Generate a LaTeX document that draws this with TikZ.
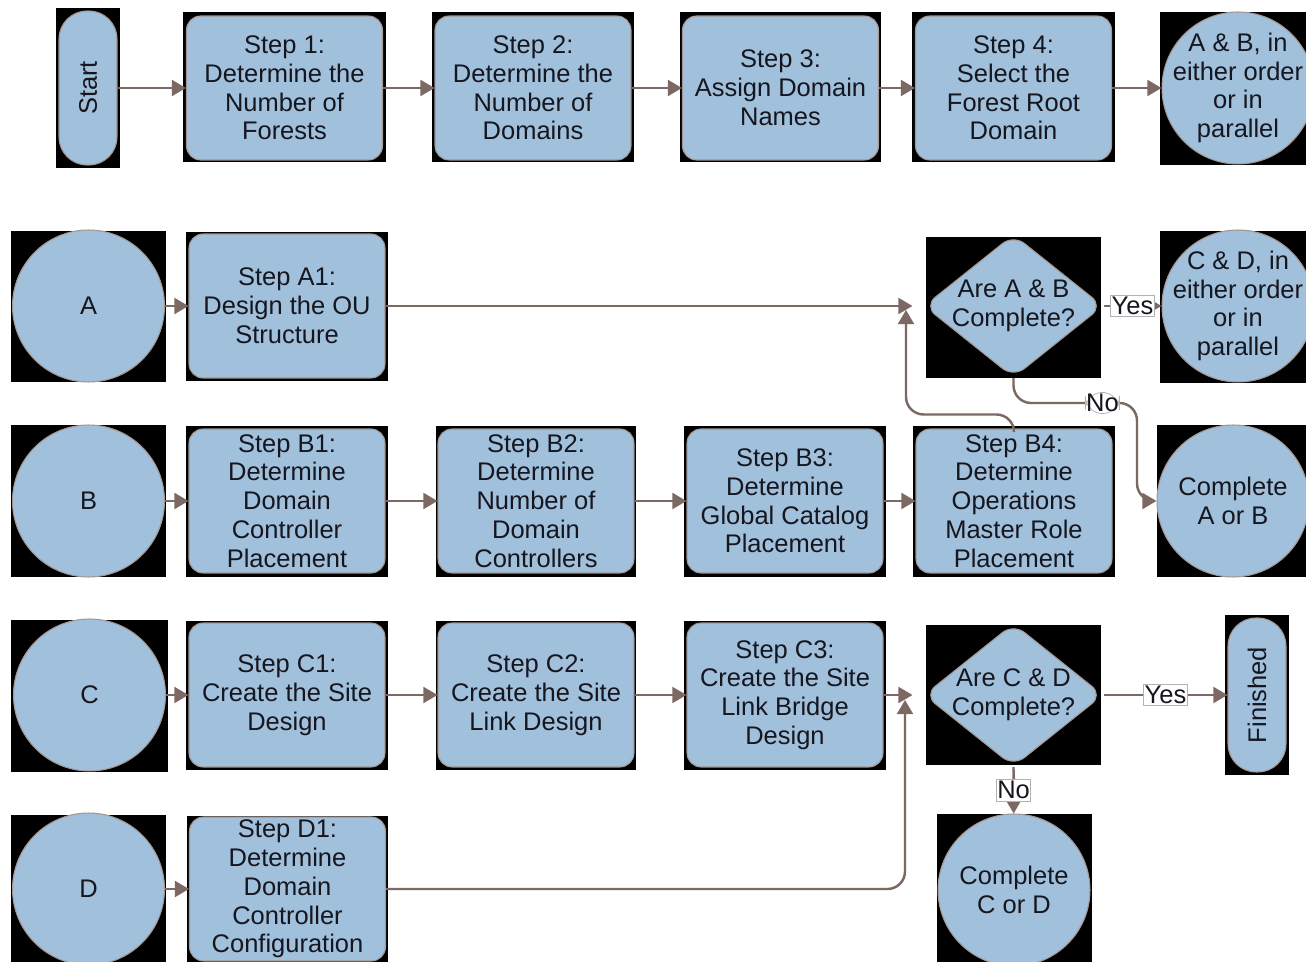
\documentclass[tikz,border=0pt]{standalone}
\usepackage{fontspec}
\setmainfont{Liberation Sans}
\usepackage{tikz}
\usetikzlibrary{positioning,shapes.geometric,arrows.meta,calc}
\definecolor{boxblue}{HTML}{A0C0DC}
\definecolor{flowline}{HTML}{7D6964}
\definecolor{inktext}{HTML}{16161F}
\tikzset{>={Triangle[length=8pt,width=9pt]}}
\tikzset{
  boxfont/.style={text=inktext,font=\fontsize{14.5}{16.4}\selectfont},
  every label/.style={boxfont,align=center,inner sep=0pt},
  stepbox/.style={boxfont,draw=flowline!70,line width=.6pt,fill=boxblue,rounded corners=8pt,
    minimum width=3.92cm,minimum height=2.88cm,inner sep=0pt,align=center},
  endcircle/.style={circle,draw=flowline!70,line width=.6pt,fill=boxblue,minimum size=3.04cm,inner sep=0pt},
  decision/.style={diamond,draw=flowline!70,line width=.6pt,fill=boxblue,rounded corners=8pt,
    minimum width=3.58cm,minimum height=2.86cm,inner sep=0pt},
  pill/.style={boxfont,draw=flowline!70,line width=.6pt,fill=boxblue,rounded corners=.56cm,
    minimum width=3.08cm,minimum height=1.16cm,inner sep=0pt,rotate=90},
  flow/.style={->,draw=flowline,line width=1.4pt},
  tag/.style={boxfont,fill=white,draw=gray!60,line width=.4pt,inner xsep=.5pt,inner ysep=1pt}
}
\begin{document}
\begin{tikzpicture}[x=0.02cm,y=-0.02cm]
\path[use as bounding box,fill=white] (0,0) rectangle (1306,962);
\clip (0,0) rectangle (1306,962);
\fill (56,8) rectangle (120,168);
\fill (183,12) rectangle (386,162);
\fill (432,12) rectangle (634,162);
\fill (680,12) rectangle (881,162);
\fill (912,12) rectangle (1115,162);
\fill (1160,12) rectangle (1306,165);
\fill (11,231) rectangle (166,382);
\fill (186,232) rectangle (388,381);
\fill (926,237) rectangle (1101,378);
\fill (1160,231) rectangle (1306,383);
\fill (11,425) rectangle (166,577);
\fill (186,426) rectangle (388,577);
\fill (436,426) rectangle (636,577);
\fill (684,426) rectangle (886,577);
\fill (913,426) rectangle (1115,577);
\fill (1157,425) rectangle (1306,577);
\fill (11,620) rectangle (168,772);
\fill (186,621) rectangle (388,770);
\fill (436,621) rectangle (636,770);
\fill (684,621) rectangle (886,770);
\fill (926,625) rectangle (1101,765);
\fill (1225,615) rectangle (1289,775);
\fill (11,815) rectangle (166,962);
\fill (187,816) rectangle (388,962);
\fill (937,814) rectangle (1092,962);
\node[pill] (start) at (88,88) {Start};
\node[stepbox] (s1) at (284.5,88) {Step 1:\\Determine the\\Number of\\Forests};
\node[stepbox] (s2) at (533,88) {Step 2:\\Determine the\\Number of\\Domains};
\node[stepbox] (s3) at (780.5,88) {Step 3:\\Assign Domain\\Names};
\node[stepbox] (s4) at (1013.5,88) {Step 4:\\Select the\\Forest Root\\Domain};
\node[endcircle,label=center:{A \& B, in\\either order\\or in\\parallel}] (ab) at (1238,88) {};
\node[endcircle,label=center:A] (a) at (88.5,306) {};
\node[stepbox] (a1) at (287,306) {Step A1:\\Design the OU\\Structure};
\node[decision,label=center:{Are A \& B\\Complete?}] (abq) at (1013.5,306) {};
\node[endcircle,label=center:{C \& D, in\\either order\\or in\\parallel}] (cd) at (1238,306) {};
\node[endcircle,label=center:B] (b) at (88.5,501) {};
\node[stepbox] (b1) at (287,501) {Step B1:\\Determine\\Domain\\Controller\\Placement};
\node[stepbox] (b2) at (536,501) {Step B2:\\Determine\\Number of\\Domain\\Controllers};
\node[stepbox] (b3) at (785,501) {Step B3:\\Determine\\Global Catalog\\Placement};
\node[stepbox] (b4) at (1014,501) {Step B4:\\Determine\\Operations\\Master Role\\Placement};
\node[endcircle,label=center:{Complete\\A or B}] (aorb) at (1233,501) {};
\node[endcircle,label=center:C] (c) at (89.5,695) {};
\node[stepbox] (c1) at (287,695) {Step C1:\\Create the Site\\Design};
\node[stepbox] (c2) at (536,695) {Step C2:\\Create the Site\\Link Design};
\node[stepbox] (c3) at (785,695) {Step C3:\\Create the Site\\Link Bridge\\Design};
\node[decision,label=center:{Are C \& D\\Complete?}] (cdq) at (1013.5,695) {};
\node[pill] (fin) at (1257,695) {Finished};
\node[endcircle,label=center:D] (d) at (88.5,889) {};
\node[stepbox] (d1) at (287.5,889) {Step D1:\\Determine\\Domain\\Controller\\Configuration};
\node[endcircle,label=center:{Complete\\C or D}] (cord) at (1014,890) {};
\coordinate (abjoin) at (906,310);
\coordinate (cdjoin) at (905,700);
\coordinate (nobend) at (1137,403);
\draw[flow] (start) -- (s1);
\draw[flow] (s1) -- (s2);
\draw[flow] (s2) -- (s3);
\draw[flow] (s3) -- (s4);
\draw[flow] (s4) -- (ab);
\draw[flow] (a) -- (a1);
\draw[flow,shorten >=.22cm] (a1) -- (abq.west);
\draw[flow] (abq.east) -- node[tag]{Yes} (cd);
\draw[flow,rounded corners=10pt] (abq.south) |- node[tag,pos=.86]{No} (nobend) |- (aorb.west);
\draw[flow] (b) -- (b1);
\draw[flow] (b1) -- (b2);
\draw[flow] (b2) -- (b3);
\draw[flow] (b3) -- (b4);
\draw[flow,rounded corners=10pt] (b4.north) -- ++(0,-14) -| (abjoin);
\draw[flow] (c) -- (c1);
\draw[flow] (c1) -- (c2);
\draw[flow] (c2) -- (c3);
\draw[flow,shorten >=.22cm] (c3) -- (cdq.west);
\draw[flow] (cdq.east) -- node[tag]{Yes} (fin);
\draw[flow] (cdq.south) -- node[tag]{No} (cord);
\draw[flow] (d) -- (d1);
\draw[flow,rounded corners=10pt] (d1.east) -| (cdjoin);
\end{tikzpicture}
\end{document}
